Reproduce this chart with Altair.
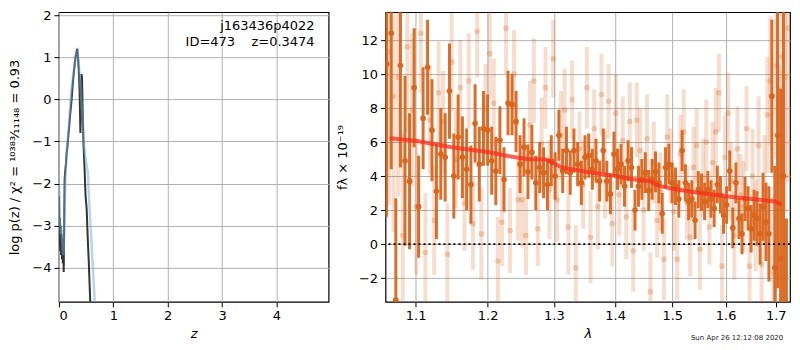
import altair as alt
import pandas as pd

FONT = "DejaVu Sans"
ORANGE = "#d9661c"

# ---------------- left panel: log p(z) ----------------
pz_dark_z = [0.000, 0.008, 0.016, 0.024, 0.032, 0.040, 0.048, 0.056, 0.064, 0.072,
             0.080, 0.088, 0.096, 0.105, 0.115, 0.125, 0.140, 0.155, 0.170, 0.185,
             0.200, 0.215, 0.230, 0.245, 0.260, 0.275, 0.290, 0.305, 0.320, 0.337,
             0.350, 0.365, 0.380, 0.395, 0.405, 0.415, 0.425, 0.435, 0.450, 0.470,
             0.490, 0.510, 0.530, 0.550, 0.570, 0.590]
pz_dark_v = [-2.3, -3.5, -2.8, -3.6, -3.0, -3.7, -3.2, -3.8, -3.4, -3.9,
             -3.3, -4.1, -3.0, -1.9, -1.7, -1.6, -1.3, -1.15, -0.9, -0.7,
             -0.45, -0.25, -0.05, 0.2, 0.45, 0.65, 0.85, 1.0, 1.1, 1.2,
             1.0, 0.7, 0.2, -0.8, -0.3, 0.6, 0.5, -0.2, -1.0, -1.6,
             -2.3, -2.6, -3.3, -3.9, -4.6, -5.3]

pz_blue_z = [0.000, 0.010, 0.020, 0.035, 0.050, 0.065, 0.080, 0.095, 0.110, 0.125,
             0.150, 0.175, 0.200, 0.225, 0.250, 0.275, 0.300, 0.320, 0.340, 0.360,
             0.380, 0.400, 0.420, 0.440, 0.470, 0.500, 0.530, 0.560, 0.590, 0.620,
             0.650, 0.680]
pz_blue_v = [-2.05, -2.3, -2.9, -3.2, -3.1, -3.5, -3.7, -3.3, -2.4, -1.7,
             -1.1, -0.8, -0.3, 0.2, 0.45, 0.7, 0.95, 1.1, 1.15, 0.9,
             0.6, 0.3, -0.2, -0.6, -1.2, -1.5, -1.7, -2.5, -3.2, -3.9,
             -4.6, -5.3]

# ---------------- right panel: spectrum ----------------
dark_lam = [1.062, 1.068, 1.074, 1.080, 1.086, 1.092, 1.098, 1.104, 1.110, 1.116,
            1.122, 1.128, 1.134, 1.140, 1.146, 1.152, 1.158, 1.164, 1.170, 1.176,
            1.182, 1.188, 1.194, 1.200, 1.206, 1.212, 1.218, 1.224, 1.230, 1.236,
            1.242, 1.248, 1.254, 1.260, 1.266, 1.272, 1.278, 1.284, 1.290, 1.296,
            1.302, 1.308, 1.314, 1.320, 1.326, 1.332, 1.338, 1.344, 1.350, 1.356,
            1.362, 1.368, 1.374, 1.380, 1.386, 1.392, 1.398, 1.404, 1.410, 1.416,
            1.422, 1.428, 1.434, 1.440, 1.446, 1.452, 1.458, 1.464, 1.470, 1.476,
            1.482, 1.488, 1.494, 1.500, 1.506, 1.512, 1.518, 1.524, 1.530, 1.536,
            1.542, 1.548, 1.554, 1.560, 1.566, 1.572, 1.578, 1.584, 1.590, 1.596,
            1.602, 1.608, 1.614, 1.620, 1.626, 1.632, 1.638, 1.644, 1.650, 1.656,
            1.662, 1.668, 1.674, 1.680, 1.686, 1.692, 1.698, 1.704, 1.710, 1.716,
            1.722]
dark_flux = [10.6, 12.4, -3.3, 10.5, 4.9, 3.7, 9.2, 2.2, 7.4, 10.4,
             6.7, 3.1, 5.3, 5.1, 9.0, 4.0, 6.3, 5.1, 4.4, 3.5,
             7.1, 4.7, 6.8, 6.7, 4.9, 4.3, 6.1, 3.8, 8.3, 8.2,
             7.2, 4.7, 5.7, 4.25, 5.4, 3.6, 4.5, 4.2, 3.5, 4.9,
             4.0, 6.4, 4.3, 5.5, 4.2, 5.5, 4.7, 3.6, 5.1, 5.2,
             4.4, 4.9, 3.7, 5.5, 3.7, 2.95, 5.3, 4.4, 4.7, 3.4,
             4.9, 4.5, 2.0, 3.4, 3.8, 4.2, 3.15, 3.8, 4.25, 3.6,
             1.8, 4.5, 4.7, 3.6, 3.4, 2.65, 5.5, 3.6, 2.5, 2.65,
             1.4, 3.2, 3.05, 2.5, 3.2, 2.65, 2.1, 3.5, 2.9, 1.7,
             2.3, 4.3, 0.95, 3.6, 1.5, 0.6, 2.65, 2.1, 0.9, 1.7,
             1.5, 0.6, 2.2, 1.3, 0.6, 8.7, -1.4, 6.4, -0.85, 4.0,
             -3.5]
dark_err = [9, 8, 6, 6, 5, 4, 3.5, 3, 3, 2.8,
            3.0, 2.8, 2.7, 2.6, 2.8, 2.5, 2.5, 2.4, 2.4, 2.3,
            2.3, 2.2, 2.2, 2.1, 2.0, 2.0, 2.0, 1.9, 1.9, 1.8,
            1.8, 1.7, 1.7, 1.6, 1.6, 1.6, 1.5, 1.5, 1.5, 1.5,
            1.4, 1.5, 1.3, 1.4, 1.3, 1.3, 1.3, 1.3, 1.3, 1.3,
            1.2, 1.3, 1.2, 1.3, 1.2, 1.2, 1.3, 1.2, 1.2, 1.2,
            1.2, 1.2, 1.2, 1.2, 1.2, 1.2, 1.2, 1.2, 1.2, 1.2,
            1.2, 1.2, 1.2, 1.2, 1.1, 1.1, 1.2, 1.1, 1.1, 1.1,
            1.1, 1.1, 1.1, 1.1, 1.1, 1.1, 1.1, 1.1, 1.1, 1.1,
            1.1, 1.2, 1.2, 1.2, 1.2, 1.2, 1.3, 1.3, 1.4, 1.5,
            1.6, 1.8, 2.0, 2.3, 2.8, 4.5, 6, 9, 10, 12,
            5]

light_lam = [1.065, 1.071, 1.077, 1.083, 1.089, 1.095, 1.101, 1.107, 1.113, 1.119,
             1.125, 1.131, 1.137, 1.143, 1.149, 1.155, 1.161, 1.167, 1.173, 1.179,
             1.185, 1.191, 1.197, 1.203, 1.209, 1.215, 1.221, 1.227, 1.233, 1.239,
             1.245, 1.251, 1.257, 1.263, 1.269, 1.275, 1.281, 1.287, 1.293, 1.299,
             1.305, 1.311, 1.317, 1.323, 1.329, 1.335, 1.341, 1.347, 1.353, 1.359,
             1.365, 1.371, 1.377, 1.383, 1.389, 1.395, 1.401, 1.407, 1.413, 1.419,
             1.425, 1.431, 1.437, 1.443, 1.449, 1.455, 1.461, 1.467, 1.473, 1.479,
             1.485, 1.491, 1.497, 1.503, 1.509, 1.515, 1.521, 1.527, 1.533, 1.539,
             1.545, 1.551, 1.557, 1.563, 1.569, 1.575, 1.581, 1.587, 1.593, 1.599,
             1.605, 1.611, 1.617, 1.623, 1.629, 1.635, 1.641, 1.647, 1.653, 1.659,
             1.665, 1.671, 1.677, 1.683, 1.689, 1.695, 1.701, 1.707, 1.713, 1.719,
             1.725]
light_flux = [11.3, 8.7, 9.8, 0.5, 11.6, 7.9, 2.2, 12.4, -0.5, 7.3,
              1.4, 8.9, 7.2, -0.6, 10.7, 5.0, 9.2, 2.4, 9.6, 1.2,
              12.5, 0.6, 8.0, 11.2, 8.3, -1.0, 1.3, 12.7, 0.8, 10.0,
              2.6, 2.6, 0.5, 7.0, 9.6, 0.9, 5.9, 9.2, 3.2, 10.9,
              2.6, 6.4, 7.9, 1.0, 8.5, -1.4, 5.6, 3.5, 9.2, 0.4,
              6.8, 2.2, 8.8, 4.1, 8.4, 1.2, 7.7, 2.9, 6.1, 1.6,
              7.2, -0.4, 7.3, 5.5, 2.0, 6.2, -2.8, 4.8, 1.4, 3.1,
              -0.9, 6.3, 4.6, 1.9, -0.9, 5.3, 6.6, 2.4, 0.4, 4.5,
              5.8, -0.3, 3.9, 6.0, 1.0, 4.8, 6.6, 8.9, -1.3, 5.1,
              7.7, 3.7, 0.5, 5.6, 2.9, 2.2, 6.8, -1.3, 4.0, 1.1,
              5.8, -1.2, 3.2, 7.6, 9.6, -1.7, 10.5, 4.0, 11.0, 9.8,
              12.7]
light_err = [9, 8, 7, 6, 5, 4.5, 4, 3.5, 3.5, 3.2,
             3.2, 3.0, 3.0, 3.0, 2.9, 2.9, 2.8, 2.8, 2.8, 2.7,
             2.7, 2.7, 2.6, 2.7, 2.6, 2.6, 2.6, 2.7, 2.5, 2.6,
             2.4, 2.8, 2.3, 2.6, 2.5, 2.2, 2.7, 2.4, 2.9, 2.3,
             2.5, 2.6, 2.4, 2.8, 2.3, 2.5, 2.2, 2.6, 2.4, 2.7,
             2.3, 2.5, 2.4, 2.6, 2.2, 2.5, 2.3, 2.4, 2.6, 2.5,
             2.3, 2.4, 2.2, 2.5, 2.4, 2.6, 2.3, 2.4, 2.2, 2.3,
             2.4, 2.5, 2.2, 2.3, 2.4, 2.3, 2.5, 2.2, 2.3, 2.4,
             2.2, 2.4, 2.3, 2.5, 2.2, 2.4, 2.6, 2.3, 2.4, 2.5,
             2.4, 2.3, 2.6, 2.5, 2.4, 2.7, 2.5, 2.6, 2.8, 2.7,
             2.9, 3.0, 3.2, 3.4, 3.8, 4.5, 5.5, 6.5, 7.5, 8,
             9]

model_lam = [1.066, 1.100, 1.147, 1.200, 1.232, 1.258, 1.288, 1.300, 1.313, 1.356,
             1.400, 1.446, 1.458, 1.475, 1.500, 1.548, 1.600, 1.657, 1.700, 1.712]
model_flux = [6.23, 6.08, 5.71, 5.41, 5.17, 5.0, 4.97, 4.74, 4.5, 4.23,
              4.0, 3.72, 3.72, 3.44, 3.25, 3.02, 2.81, 2.63, 2.5, 2.31]

x_ticks_left = [0, 1, 2, 3, 4]
y_ticks_left = [-4, -3, -2, -1, 0, 1, 2]
x_ticks_right = [1.1, 1.2, 1.3, 1.4, 1.5, 1.6, 1.7]
y_ticks_right = [-2, 0, 2, 4, 6, 8, 10, 12]

NB = "\u00a0"
label_line1 = "j163436p4022"
label_line2 = "ID=473" + NB * 4 + "z=0.3474"
timestamp = "Sun Apr 26 12:12:08 2020"

# ---------------- build ----------------
LW, LH = 270, 290
RW, RH = 405, 290

xs_l = alt.Scale(domain=[0, 4.96], nice=False, zero=False)
ys_l = alt.Scale(domain=[-4.81, 2.07], nice=False, zero=False)

xax_l = alt.Axis(values=x_ticks_left, format="d", title="z", titleFontStyle="italic")
yax_l = alt.Axis(values=y_ticks_left, format="d",
                 title="log p(z) / χ² = ¹⁰³⁸³⁄₁₁₁₄₈ = 0.93", titlePadding=10)

dark_df = pd.DataFrame({"z": pz_dark_z, "v": pz_dark_v})
blue_df = pd.DataFrame({"z": pz_blue_z, "v": pz_blue_v})

l_dark = alt.Chart(dark_df).mark_line(color="#333333", strokeWidth=2, clip=True).encode(
    x=alt.X("z:Q", scale=xs_l, axis=xax_l),
    y=alt.Y("v:Q", scale=ys_l, axis=yax_l),
)
l_blue = alt.Chart(blue_df).mark_line(color="#6baed6", strokeWidth=2.5, opacity=0.5, clip=True).encode(
    x=alt.X("z:Q", scale=xs_l),
    y=alt.Y("v:Q", scale=ys_l),
)
txt1 = alt.Chart(pd.DataFrame({"t": [label_line1]})).mark_text(
    align="right", baseline="middle", fontSize=13, font=FONT, color="black"
).encode(x=alt.value(256), y=alt.value(14), text="t:N")
txt2 = alt.Chart(pd.DataFrame({"t": [label_line2]})).mark_text(
    align="right", baseline="middle", fontSize=13, font=FONT, color="black"
).encode(x=alt.value(256), y=alt.value(30), text="t:N")

left = alt.layer(l_dark, l_blue, txt1, txt2).properties(width=LW, height=LH)

xs_r = alt.Scale(type="log", domain=[1.0607, 1.7295], nice=False)
ys_r = alt.Scale(domain=[-3.40, 13.64], nice=False, zero=False)
xax_r = alt.Axis(values=x_ticks_right, format=".1f", title="λ", titleFontStyle="italic")
yax_r = alt.Axis(values=y_ticks_right, format="d", title="fλ × 10⁻¹⁹", titlePadding=9)

ddf = pd.DataFrame({"lam": dark_lam, "f": dark_flux, "e": dark_err})
ddf["lo"] = ddf["f"] - ddf["e"]
ddf["hi"] = ddf["f"] + ddf["e"]
ldf = pd.DataFrame({"lam": light_lam, "f": light_flux, "e": light_err})
ldf["lo"] = ldf["f"] - ldf["e"]
ldf["hi"] = ldf["f"] + ldf["e"]
mdf = pd.DataFrame({"lam": model_lam, "f": model_flux})

light_bars = alt.Chart(ldf).mark_rule(color=ORANGE, strokeWidth=4, opacity=0.22, clip=True).encode(
    x=alt.X("lam:Q", scale=xs_r, axis=xax_r),
    y=alt.Y("lo:Q", scale=ys_r, axis=yax_r),
    y2="hi:Q",
)
light_pts = alt.Chart(ldf).mark_circle(color=ORANGE, size=32, opacity=0.28, clip=True).encode(
    x=alt.X("lam:Q", scale=xs_r), y=alt.Y("f:Q", scale=ys_r)
)
dark_bars = alt.Chart(ddf).mark_rule(color=ORANGE, strokeWidth=3, opacity=0.95, clip=True).encode(
    x=alt.X("lam:Q", scale=xs_r), y=alt.Y("lo:Q", scale=ys_r), y2="hi:Q"
)
dark_pts = alt.Chart(ddf).mark_circle(color=ORANGE, size=32, opacity=1, clip=True).encode(
    x=alt.X("lam:Q", scale=xs_r), y=alt.Y("f:Q", scale=ys_r)
)
model = alt.Chart(mdf).mark_line(color="#ff2a1a", strokeWidth=4, opacity=0.75, clip=True).encode(
    x=alt.X("lam:Q", scale=xs_r), y=alt.Y("f:Q", scale=ys_r)
)
zero = alt.Chart(pd.DataFrame({"y": [0]})).mark_rule(
    color="black", strokeWidth=1.8, strokeDash=[2, 3]
).encode(y=alt.Y("y:Q", scale=ys_r))
stamp = alt.Chart(pd.DataFrame({"t": [timestamp]})).mark_text(
    align="center", baseline="middle", fontSize=7, font=FONT, color="#222222"
).encode(x=alt.value(352), y=alt.value(RH + 36), text="t:N")

right = alt.layer(light_bars, light_pts, dark_bars, dark_pts, model, zero, stamp).properties(
    width=RW, height=RH
)

chart = alt.hconcat(left, right, spacing=6, padding=0).configure_axis(
    labelFont=FONT, titleFont=FONT, labelFontSize=13, titleFontSize=13,
    labelColor="black", titleColor="black", titleFontWeight="normal",
    gridColor="#b0b0b0", gridWidth=1, domain=False, tickColor="black",
    tickSize=5, labelPadding=3,
).configure_axisX(titlePadding=5).configure_view(stroke="black", strokeWidth=1.2)

chart.save("out.html", embed_options={"renderer": "svg", "actions": False})
